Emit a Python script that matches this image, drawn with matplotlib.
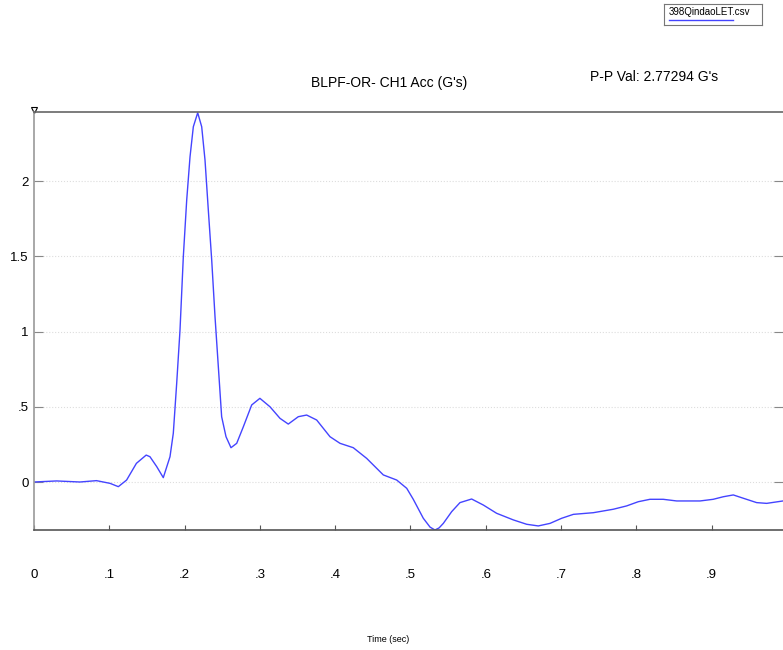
import numpy as np
import matplotlib.pyplot as plt

plt.rcParams['font.family'] = ['Liberation Sans', 'DejaVu Sans']

# time (sec) and acceleration (G's)
t = [0.000, 0.030, 0.061, 0.083, 0.101, 0.112, 0.123, 0.136, 0.149, 0.154,
     0.163, 0.1717, 0.1806, 0.185, 0.1895, 0.1939, 0.1983, 0.2028, 0.2072, 0.2116,
     0.2174, 0.2227, 0.2271, 0.2315, 0.236, 0.2404, 0.2448, 0.2492, 0.255, 0.2616,
     0.2692, 0.278, 0.2891, 0.300, 0.3134, 0.3267, 0.3377, 0.351, 0.3621, 0.3754,
     0.3931, 0.4064, 0.424, 0.4418, 0.4639, 0.4817, 0.495, 0.5037, 0.517, 0.526,
     0.5325, 0.538, 0.5436, 0.5547, 0.5657, 0.5812, 0.5967, 0.6144, 0.6366, 0.6543,
     0.6697, 0.6853, 0.7008, 0.7163, 0.7428, 0.7694, 0.787, 0.8025, 0.818, 0.8357,
     0.8535, 0.8845, 0.902, 0.9154, 0.9287, 0.942, 0.9597, 0.973, 0.9947]
acc = [0.000, 0.007, 0.000, 0.009, -0.009, -0.031, 0.013, 0.124, 0.179, 0.168,
       0.102, 0.029, 0.168, 0.324, 0.656, 1.010, 1.497, 1.874, 2.161, 2.361,
       2.454, 2.361, 2.140, 1.807, 1.475, 1.098, 0.766, 0.434, 0.301, 0.228,
       0.257, 0.367, 0.512, 0.556, 0.500, 0.423, 0.385, 0.434, 0.445, 0.412,
       0.301, 0.257, 0.228, 0.157, 0.047, 0.013, -0.042, -0.115, -0.241, -0.300,
       -0.319, -0.305, -0.275, -0.197, -0.137, -0.113, -0.153, -0.208, -0.252, -0.281,
       -0.292, -0.275, -0.241, -0.215, -0.204, -0.181, -0.159, -0.131, -0.115, -0.115,
       -0.126, -0.126, -0.115, -0.098, -0.086, -0.108, -0.137, -0.142, -0.126]

xticks = [0, 0.1, 0.2, 0.3, 0.4, 0.5, 0.6, 0.7, 0.8, 0.9]
xlabels = ["0", ".1", ".2", ".3", ".4", ".5", ".6", ".7", ".8", ".9"]
yticks = [0, 0.5, 1, 1.5, 2]
ylabels = ["0", ".5", "1", "1.5", "2"]

fig = plt.figure(figsize=(7.83, 6.5), dpi=100)
ax = fig.add_axes([34 / 783, 1 - 530 / 650, 749 / 783, 418 / 650])

ax.plot(t, acc, color='#4444ff', lw=1)
ax.set_xlim(0, 0.9947)
ax.set_ylim(min(acc), max(acc) + 0.005)

ax.set_xticks(xticks)
ax.set_xticklabels(xlabels)
ax.set_yticks(yticks)
ax.set_yticklabels(ylabels)
ax.tick_params(axis='x', direction='in', length=3.6, pad=28, labelsize=9.5, color='#555555')
ax.tick_params(axis='y', direction='in', length=6.5, pad=4, labelsize=9.5, color='#888888',
               right=True, labelright=False)
ax.yaxis.grid(True, ls=':', color='#dddddd', lw=0.8)

ax.spines['top'].set_color('#666666')
ax.spines['left'].set_color('#999999')
ax.spines['bottom'].set_color('#555555')
ax.spines['right'].set_visible(False)
for s in ['top', 'left', 'bottom']:
    ax.spines[s].set_linewidth(1.2)

# small marker at the top-left corner
ax.plot([0], [max(acc) + 0.02], marker='v', ms=5, mfc='white', mec='black', mew=0.8,
        clip_on=False)

fig.text(389 / 783, 1 - 83 / 650, "BLPF-OR- CH1 Acc (G's)", ha='center', va='center',
         fontsize=10)
fig.text(590 / 783, 1 - 77 / 650, "P-P Val: 2.77294 G's", ha='left', va='center',
         fontsize=10)
fig.text(388 / 783, 1 - 640 / 650, "Time (sec)", ha='center', va='center', fontsize=6.5)

# legend box
leg = fig.add_axes([664 / 783, 1 - 25 / 650, 98 / 783, 21 / 650])
leg.set_xticks([])
leg.set_yticks([])
for s in leg.spines.values():
    s.set_color('#777777')
leg.text(0.05, 0.60, "398QindaoLET.csv", fontsize=7, va='center', ha='left',
         transform=leg.transAxes)
leg.plot([0.05, 0.70], [0.24, 0.24], color='#4444ff', lw=1, transform=leg.transAxes)
leg.set_xlim(0, 1)
leg.set_ylim(0, 1)

fig.savefig("out.png", dpi=100)
